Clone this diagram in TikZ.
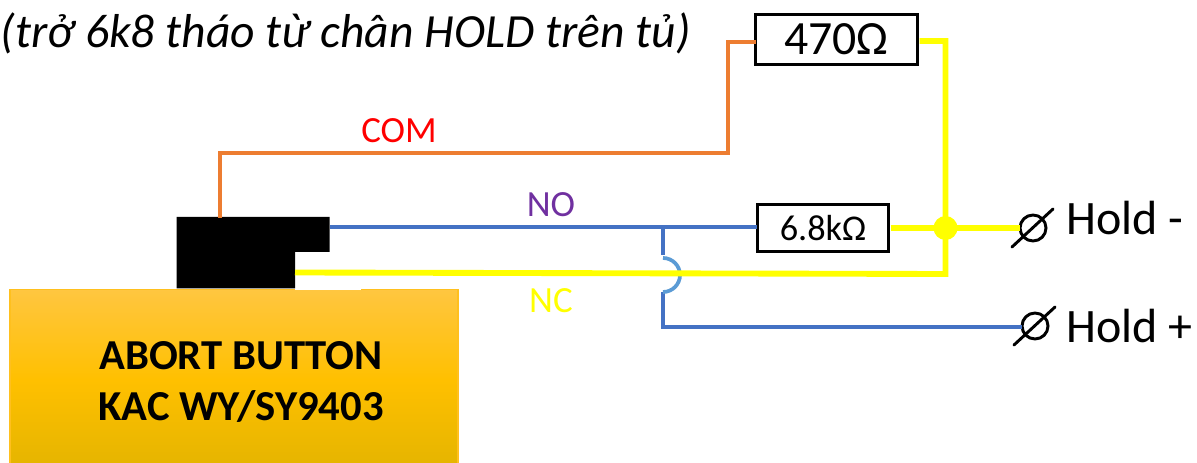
\documentclass[tikz,border=0pt]{standalone}
\usepackage{fontspec}
\setmainfont{Carlito}
\definecolor{wblue}{HTML}{4472C4}
\definecolor{wblue2}{HTML}{5B9BD5}
\definecolor{worange}{HTML}{ED7D31}
\definecolor{wyellow}{HTML}{FFFF00}
\definecolor{wpurple}{HTML}{7030A0}
\definecolor{wred}{HTML}{FF0000}
\definecolor{goldA}{RGB}{255,198,64}
\definecolor{goldB}{RGB}{255,192,0}
\definecolor{goldC}{RGB}{230,181,0}
\definecolor{goldE}{RGB}{255,192,30}
\tikzset{
  res/.style={draw=black,line width=2.2pt,fill=white,inner sep=0pt,outer sep=0pt},
  bluew/.style={draw=wblue,line width=3pt},
  orangew/.style={draw=worange,line width=3.3pt},
  yellowt/.style={draw=wyellow,line width=4.4pt},
  term/.style={draw=black,line width=2.2pt,line cap=round},
  termc/.style={circle,minimum size=19.5pt,inner sep=0pt,outer sep=0pt,draw=black,line width=2.2pt},
  lbl/.style={inner sep=0pt,font=\fontsize{27.7}{30}\selectfont},
  big/.style={inner sep=0pt,anchor=west,font=\fontsize{36}{40}\selectfont},
}
\begin{document}
\begin{tikzpicture}[x=0.75pt,y=-0.75pt]
\useasboundingbox (0,0) rectangle (1197,463);
% button body
\path[top color=goldA,bottom color=goldB] (10,289.5) rectangle (458,380);
\path[top color=goldB,bottom color=goldC] (10,380) rectangle (458,463);
\draw[draw=goldE,line width=0.9pt] (10,463) -- (10,289.5) -- (458,289.5) -- (458,463);
\fill[white] (295,287) rectangle (361,290);
\node[inner sep=0pt,align=center,font=\fontsize{32}{38}\selectfont\bfseries] (btntext) at (241,382) {ABORT BUTTON\\KAC WY/SY9403};
% switch
\fill[black] (176.5,217) -- (329.5,217) -- (329.5,252) -- (295,252) -- (295,288.5) -- (176.5,288.5) -- cycle;
\coordinate (swtop) at (220,218);
\coordinate (swno) at (329.5,227);
\coordinate (swnc) at (295,272.5);
% resistors
\node[res,minimum width=121.5pt,minimum height=38pt] (r470) at (836.5,39.5) {\raisebox{-1.2pt}{\fontsize{35.8}{38}\selectfont 470Ω}};
\node[res,minimum width=98.5pt,minimum height=35.5pt] (r68) at (823,228) {\raisebox{-0.8pt}{\fontsize{27.2}{30}\selectfont 6.8kΩ}};
% terminals
\node[termc] (thm) at (1033,228) {};
\node[termc] (thp) at (1035,326) {};
% junction points
\coordinate (jun) at (945.5,228);
\coordinate (tee) at (663,227);
\coordinate (arcA) at (663,258);
\coordinate (arcB) at (663,292);
\coordinate (arcC) at (663,255);
% wires
\draw[orangew] (swtop) -- (220,153) -- (728,153) -- (728,42) -- (r470.west |- 0,42);
\draw[bluew] (swno) -- (r68.west |- 0,227);
\draw[bluew] (tee) -- (arcC);
\draw[bluew] (arcB) -- (663,327) -- (thp.west |- 0,327);
\draw[draw=wblue2,line width=2.8pt] (arcA) arc[start angle=-90,end angle=90,radius=17];
\draw[yellowt] (r470.east |- 0,41) ++(2,0) -- (945.5,41) -- (945.5,274) -- (swnc);
\draw[yellowt] (r68.east |- 0,228) ++(2,0) -- (thm.west |- 0,228);
\fill[wyellow] (jun) circle (12);
% terminal symbols
\coordinate (sa) at (1012,247); \coordinate (sb) at (1053,209);
\coordinate (sc) at (1014,345); \coordinate (sd) at (1055,307);
\draw[term] (sa) -- (sb);
\draw[term] (sc) -- (sd);
% labels
\node[inner sep=0pt,anchor=west,font=\fontsize{35.7}{40}\selectfont\itshape] (title) at (0.5,33) {(trở 6k8 tháo từ chân HOLD trên tủ)};
\node[lbl,text=wred] (com) at (399,131) {COM};
\node[lbl,text=wpurple] (no) at (551,205) {NO};
\node[lbl,text=wyellow] (nc) at (551,301) {NC};
\node[big] (hm) at (1066,218) {Hold -};
\node[big] (hp) at (1066,326) {Hold +};
\end{tikzpicture}
\end{document}
